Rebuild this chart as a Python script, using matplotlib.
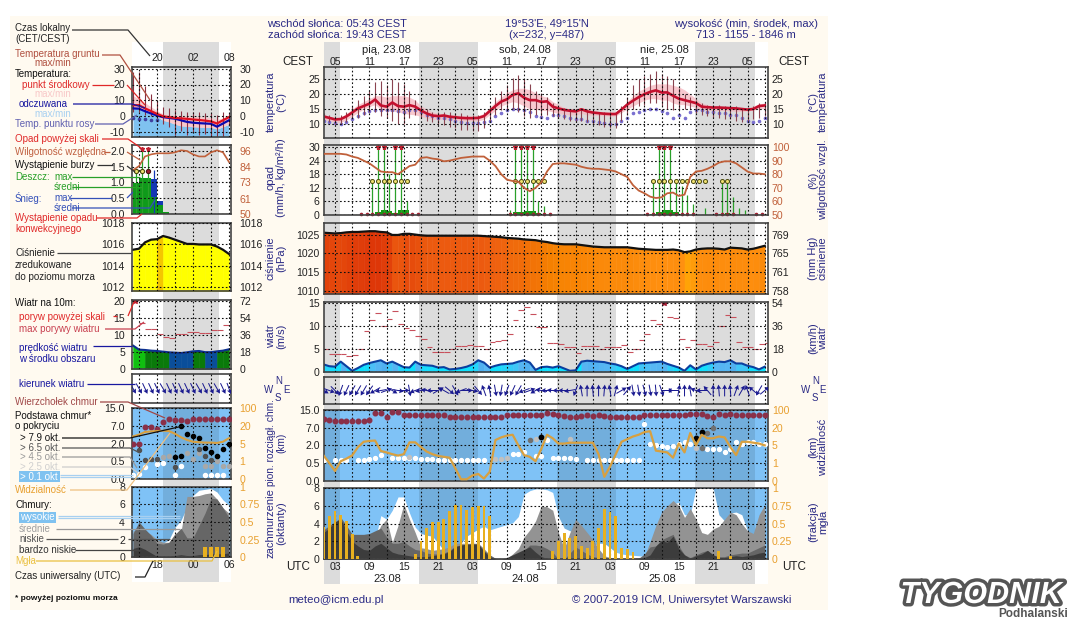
import numpy as np
import matplotlib
matplotlib.use("Agg")
import matplotlib.pyplot as plt
import matplotlib.patheffects as pe
from matplotlib.colors import LinearSegmentedColormap, Normalize
from matplotlib.patches import Rectangle, Polygon

plt.rcParams['font.family'] = ['Liberation Sans', 'DejaVu Sans']
W, H = 1079, 626
nan = float('nan')

# ---------- main period, hourly from 23.08 01 UTC ----------
hours = np.arange(1, 79)
temp_mean = [12.5,12,11.5,11.6,12.5,13.8,15.2,16,16.8,18.2,
 16.2,15.8,17.2,16,15.8,16.3,15.8,14.5,13.5,12.8,
 12.6,12.8,12.4,12.2,12,11.9,11.9,12,12.6,14.3,
 16,17.5,18.3,19.8,20.3,18.8,18,18,17.4,17.6,
 15.8,15.2,14.7,14.4,14.2,14.9,14.2,13.8,13.6,13.4,
 13.3,13.3,14.8,16.5,17.8,19,20,20.8,21.3,20.6,
 20.6,19.5,18.5,18,17.5,17,15.8,15.6,15.5,15.5,
 15.4,15.3,15.2,15,14.8,15,16,16.2]
temp_hi = [13.5,13,12.5,13,14,16,18,19.5,21,24,
 24.5,23,25,24,23.5,21,18,16,15,14,
 14,14,14,13.5,13.5,13,13,13,14,16,
 19,21,23,25.5,26.5,25,23.5,21,20.5,19,
 17,16,15.5,15,15,15.5,15,14.5,14,14,
 14,14,16,19,23,25,26,27,28,27,
 26,25,22,20,19,18,17,16.5,16.5,16.5,
 16,16,16,15.5,15.5,16,17,17.5]
temp_lo = [11,10.5,10,10,10.5,11.5,12,13,14,14,
 12.5,12,11,10,10,12,13,12,11,10.5,
 10,9.5,9,8.5,8,8,7.5,7.5,8.5,11,
 13,14.5,15,15,14,12.5,12,13,12.5,13,
 12.5,12,11.5,11,10.5,11,10.5,10,9.5,9,
 8.5,8.5,11,13,15,16,16.5,17,17,16,
 15,14.5,15,15,15,13.5,13,12.5,12,12,
 11.5,11.5,11,10.5,11,11.5,12,12.5]
band_hi = [13,12.5,12,12.3,13.5,15,16.5,17.5,18.5,19.5,
 19.5,19,19.5,19.5,19.5,19,18,16,15,14,
 13.5,13.5,13,13,12.8,12.7,12.7,12.8,13.5,15.5,
 17.5,19,20.5,21.5,22,22,21.5,20.5,19.5,19,
 17.5,16.5,15.5,15,15,15.5,15,14.5,14.2,14,
 14,14,15.5,17.5,19.5,21,22,23,23.5,23.5,
 23.5,23,22.5,21.5,20,18.5,17,16.5,16,16,
 15.8,15.7,15.5,15.3,15.3,16,16.8,17]
band_lo = [11.5,11,10.5,10.5,11.3,12.5,13.8,15,15.8,16.5,
 14.8,14.3,14.3,14,13.5,13.2,13,12.5,12,11.5,
 11.5,11.5,11.2,11.2,11,11,11,11,11.5,13,
 14.5,16,16.8,17.5,17,16,15,15,14.5,14.5,
 14,13.5,13.2,13,13,13.5,13,13,12.8,12.7,
 12.6,12.6,13.8,15,16,17,18,18.5,18.5,18,
 18,17,16.5,16.5,16,15.5,14.8,14.6,14.5,14.5,
 14.5,14.4,14.2,14.2,14.3,14.6,15,15.2]
dew = [11,10.5,10.2,10,10.5,11.5,12.5,13.5,14.2,14.6,
 14.8,14.8,14.6,14.3,14,14.5,14.8,14,13,12.5,
 12,11.8,11.5,11,10.5,10.3,10.2,10.2,10.5,11,
 12.5,13.5,14.5,15,15,14.8,14,12.5,12.2,12,
 13,13,12.5,12,11.5,11.5,11,10.8,10.5,10.2,
 10,10,11,12,13.5,14,14.5,15,15,14.3,
 13.5,12,13,12,14,14.5,14.5,14,14,13.5,
 13.5,13,13,12,11,10.5,11,12]
humidity = [95,95,95,95,94.5,93,92,90,88,85,
 82,81.5,81.5,80,83,86,87,92,92.5,91.5,
 91,89.5,90,91,92,92.5,93,93,93,90,
 86,80,76,75,74.5,70,67.5,70,74,82,
 87.5,88,88,87.5,87,85.5,84.5,84,84,83.5,
 83,82,80,78,72,68,66,63.5,62.5,63,
 66,66.5,64,65,78,82,82.5,84,86,88.5,
 89.5,89.5,88,85,82,80.5,80.5,80]
rain_hours = [9,10,11,12,13,14,15,33,34,35,36,37,38,39,58,59,60,61,62,63,64,65,67,70,71,72,73,74]
rain_max = [15.5,35,35,18,35,35,6,2,35,35,35,35,6,4,14.5,35,35,35,16,13,9,5,3,15,15,8,3,2]
mean_hours = [9,10,11,12,13,14,15,33,34,35,36,37,38,58,59,60,61,62,63,64,70,71,72,73]
rain_mean = [.5,1.5,2,1.8,1,2,2.4,.3,1.2,1.5,1.8,1.8,.8,.3,1.3,2,2.2,1.5,.5,.2,.5,.8,.5,.2]
convective_hours = [7,8,9,10,11,12,13,14,15,16,17,33,34,35,36,37,38,39,40,57,58,59,60,61,62,63,64,65,69,70,71,72,76,77]
thunder_hours = [9,10,11,12,13,14,15,34,35,36,37,38,39,58,59,60,61,62,63,64,65,66,67,70,71]
pressure = [1025.5,1025.4,1025.3,1025.4,1025.6,1025.7,1025.7,1025.8,1025.9,1025.9,
 1025.7,1025.6,1024.9,1024.9,1025.2,1025.2,1025,1024.8,1024.7,1024.7,
 1024.7,1024.7,1024.7,1024.7,1024.7,1024.7,1024.7,1024.7,1024.6,1024.5,
 1024.4,1024.3,1024.1,1024,1023.9,1023.7,1023.6,1023.5,1023.2,1023,
 1022.7,1022.5,1022.4,1022.4,1022.4,1022.2,1022,1021.8,1021.7,1021.6,
 1021.6,1021.6,1021.6,1021.6,1021.4,1021.2,1021.1,1021,1020.9,1020.9,
 1020.9,1021,1020.8,1020.3,1020.5,1021,1021.2,1021.3,1021.3,1021.2,
 1021,1021.5,1021.4,1021.3,1021,1021.2,1021.6,1022]
wind = [1.6,1.2,1.1,2.2,1.2,.2,.8,1.5,1.9,2.2,
 2.5,1.8,2.2,1.6,1,.9,2.2,1.5,1.4,1.3,
 .9,1,.5,.6,.8,1.1,1.6,2.5,2,.9,
 1.3,1.6,1.7,1.8,2.2,2.5,2,.4,1,1.1,
 .9,1.2,.7,.2,.3,2.2,2.4,2.3,2.2,2.1,
 1.8,1.6,1.2,.6,1.2,1.8,1.9,2,2.1,2.2,
 1.7,1.3,.9,.2,1.4,.5,1.3,1.7,2,2.2,
 2.1,2.5,1.8,1.8,1.3,1,.5,1.1]
gust = [5,3.9,3.9,3.9,3.5,3.6,5,9,11.4,12.9,
 9.9,11.6,13.2,10.5,9.6,9.1,7.8,7.2,5.4,4.2,
 4.2,4.2,5,5.6,5.7,5.8,5.7,5.7,5,6.4,
 6.7,7,8.2,11.2,13.4,14.1,12.7,9.8,9.7,6.3,
 6.3,6,5.5,5.4,4.1,5.7,5.7,5.7,5,5.3,
 5.4,5.4,5.9,4.3,5,6.9,8.3,11.4,10.5,15.6,
 12,11.7,7.1,5.4,6.9,6.1,6,5.7,6.4,9.9,
 12.3,12,6.6,5.4,5.4,5,6,6.3]
wind_bearing = [120,110,135,200,205,210,210,210,215,240,
 260,70,120,100,90,170,250,260,280,270,
 60,300,130,150,250,90,100,140,340,350,
 170,190,200,205,210,250,70,240,280,270,
 275,270,270,260,200,350,0,355,0,5,
 350,15,60,40,170,170,165,170,175,160,
 90,270,10,0,350,290,270,320,0,355,
 0,355,20,30,340,310,210,50]
cloud_top = [3.49,3.42,3.37,3.35,3.35,3.35,3.37,3.4,3.45,3.83,
 3.83,3.6,3.87,3.87,3.72,3.72,3.72,3.72,3.72,3.72,
 3.72,3.72,3.62,3.62,3.62,3.62,3.62,3.62,3.62,3.62,
 3.62,3.62,3.72,3.72,3.72,3.72,3.72,3.72,3.72,3.85,
 3.75,3.72,3.66,3.6,3.6,3.66,3.72,3.66,3.7,3.66,
 3.62,3.62,3.62,3.6,3.6,3.6,3.7,3.7,3.7,3.7,
 3.7,3.7,3.7,3.7,3.75,3.78,3.75,3.66,3.62,3.75,
 3.7,3.75,3.7,3.7,3.7,3.7,3.7,3.7]
base_white = [1.15,nan,1.15,1.15,1.15,nan,1.15,1.15,1.2,1.3,
 1.45,nan,1.27,1.27,1.27,1.3,1.27,1.25,1.2,1.2,
 1.15,1.15,1.15,1.15,1.15,1.15,1.15,1.15,1.15,nan,
 nan,nan,nan,1.5,1.5,1.6,nan,1.4,1.4,2.3,
 1.3,1.3,1.3,1.3,1.25,nan,1.15,1.15,1.15,1.15,
 1.15,1.15,1.15,1.15,1.15,1.15,3.2,2.05,2,1.95,
 1.9,1.95,2.05,2.2,2.05,nan,nan,1.8,1.8,1.8,
 1.65,1.8,2.2,2.05,2.2,2.2,2.05,2.05]
light_hours = [16,31,32,33,38,44,66]
light_levels = [1.35,1.25,1.25,1.3,2.35,2.35,1.85]
mid_hours = [37,67,68,69]
mid_levels = [2.3,1.85,2.7,3.0]
black_hours = [39,66,67]
black_levels = [2.45,2.4,2.75]
visibility = [1.43,1,.55,1.1,1.25,1.43,1.9,2.2,2.25,2.27,
 1.68,1.6,1.5,1.42,1.5,2.17,2.17,1.9,1.65,1.5,
 1.4,1.35,1.3,.7,.08,.08,.3,.38,.12,.5,
 2.3,2.45,2.55,2.6,2,1.45,1.35,1.1,1.8,2.6,
 2.4,2.1,2.1,2.15,2.15,2.15,2.15,2.15,1.5,.22,
 .8,1.5,2.2,2.35,2.5,2.6,2.75,2.8,1.7,1.65,
 1.6,1.3,2.1,1.6,2.7,2,2.6,2.4,2.4,2.5,
 2.45,1.9,1.45,2.2,2.2,2.15,2.1,2]
cloud_high = [3,2.8,2.6,2.5,2.4,2.2,2,1.6,1.45,2.2,
 4.9,4.5,5.5,7,7,5.2,3.6,2.9,2.7,2.6,
 1.8,1,1.1,1.25,1.8,2.6,3,3.4,3.7,3.3,
 3.5,3.7,3.9,4.1,4.8,7.3,7.7,7.9,7.9,7.8,
 7.5,4.8,3.5,3.2,3,2.3,1.5,1.5,1.8,1.8,
 1.3,.8,.6,.5,.45,.4,.3,.8,3,4.5,
 6,6.2,6.4,5,5,8,8,8,8,5,
 4.3,5.2,5.3,5,3.2,2.2,.8,.9]
cloud_mid = [2.5,2.5,2.5,2.5,2.45,2.4,2.3,2.1,2,2.4,
 3.8,4.5,1.9,3.8,6.2,4.5,3,1.3,1.2,1,
 1.1,1.2,1.4,1.8,1.8,1.8,1.8,1.8,1.2,.5,
 .1,.1,.1,.6,1.2,2.5,3.3,4.3,6,5.9,
 5.5,3,1.2,3,4.5,3.8,3,2.2,1.2,.4,
 .2,.1,.05,.1,.1,.2,.3,2,3.8,5.3,
 6,6.6,6,4.7,5.7,4.5,3,2.8,3.4,3.7,
 4.5,5.3,5,4,3.2,2.9,5,6.1]
cloud_low = [3.3,3.8,4.2,4.7,3.8,2.8,2.8,2.8,2.9,3.2,
 3.5,2.5,1.8,1.8,2,1.5,1.1,1,.7,.6,
 .6,.7,1,1.5,1.6,1.7,1.75,1.75,1,.5,
 .1,0,0,.3,.5,1,1.6,1.6,1.5,1.2,
 .8,0,0,.7,1.4,1,.6,.3,.2,.2,
 0,0,0,0,0,.1,.6,1.4,1.5,2.2,
 2.5,2.8,1.5,.5,.2,.5,.8,1,.5,.3,
 .3,.5,.6,.7,.7,1,1.3,1.6]
cloud_vlow = [3,3.5,4.2,4.5,3.2,2,1.5,1.1,1,1.5,
 1.8,1.3,.8,.6,.5,.4,.3,.3,.3,.4,
 .5,.6,.9,1.4,1.6,1.7,1.7,1.7,.9,.3,
 0,0,.2,.5,.8,1.1,1.4,.8,.3,.1,
 0,0,0,0,0,0,0,0,0,0,
 0,0,0,0,0,0,.2,.5,1.5,2.1,
 1.9,2.6,1.2,.5,.1,.4,.6,1,.5,.2,
 .2,.3,.4,.3,.4,.5,.7,.8]
fog_hours = [1,2,3,4,5,6,7,17,18,19,20,21,22,23,24,25,26,27,28,29,30,
 41,42,43,44,45,46,47,48,49,50,51,52,53,54,55,70,72]
fog = [.45,.61,.68,.62,.54,.35,.04,.08,.25,.44,.52,.53,.56,.68,.76,.76,.69,.73,.75,.75,.61,
 .11,.25,.37,.3,.32,.18,.16,.25,.44,.71,.66,.61,.16,.14,.1,.11,.04]
night_main = [(1,3.9),(17.7,27.9),(41.7,52),(65.9,76.3)]
utc_ticks = np.arange(3, 79, 6)
utc_labels = ['03','09','15','21','03','09','15','21','03','09','15','21','03']
cest_labels = ['05','11','17','23','05','11','17','23','05','11','17','23','05']

# ---------- left (analysis) period, hourly from 14 to 06 UTC ----------
l_hours = np.arange(14, 31)
l_temp = [7,7,5,3.3,1.5,0,-.5,-1,-1.3,-1.6,-2,-2.3,-2.7,-3.2,-4.5,-2.5,-.5]
l_feel = [5,4.8,3.2,1.8,.5,-.5,-1,-1.5,-2.5,-3.5,-4,-4.3,-4.5,-4.7,-6.5,-4.5,-2.5]
l_band_hi = [13,11,8.5,6,3.5,1.5,1,.5,.5,.2,0,-.3,-.5,-1,-2,-1,.5]
l_fill_hi = [5.5,4.5,3,1.5,0,-2.5,-3.5,-5,-6,-6.3,-6.5,-6.8,-7,-7,-8,-6.5,-5]
l_whisk_hi = [28,28,19,14,10,6,5,4,3.5,3,3,2.5,2,2,1,3,2]
l_whisk_lo = [3,3,1,0,-2,-5,-7,-12,-9,-12,-10,-12,-11,-13,-13,-13,-6]
l_dew_hours = [14,15,16,17,18]
l_dew = [-1,-1.5,-1.5,-2,-2]
l_humidity = [82,85,92,93.5,94.3,94.3,94.3,95,96.5,96,93.5,92,92,95,96.5,95,88]
l_rain_hours = [14,15,16,17,18,19]
l_rain = [.97,1.15,1.15,.55,.3,.05]
l_snow_hours = [17,18]
l_snow = [.55,.1]
l_max_hours = [14,15,16]
l_rain_max = [1.3,3,3]
l_snow_max = 1.4
l_thunder_hours = [14,15]
l_thunder_dark = [16]
l_pressure = [1015.5,1015.6,1016.2,1016.45,1016.5,1016.8,1016.65,1016.45,1016.25,1016.05,1016.05,1016,1016,1016,1015.8,1015.5,1015.1]
l_wind = [6.9,5.7,5.6,5.4,5.3,5.1,4.9,4.8,4.7,4.9,5.2,5.3,4.95,4.95,5.2,5.4,5.8]
l_gust = [22,13.4,11.7,11.7,10.3,9.3,9,10.3,10.3,10.8,10.8,10.5,10.5,11.4,11.4,13,13]
l_bearing = [150,150,155,155,155,150,155,155,155,155,155,150,155,155,150,155,160]
l_top_hours = [14,15,16,17,18,19,20,21,22,23,24,25,26,27,28,29,30]
l_top = [2,2,2.95,2.93,2.8,3.2,3.4,3.35,3.35,3.27,3.37,3.37,3.37,3.37,3.37,3.37,3.37]
l_black_hours = [22,23,24,25,26,27,28,29,30,21,22]
l_black = [3,2.55,2.4,2.3,1.75,1.5,1.3,1.7,2,1.25,1.3]
l_dark_hours = [15,16,17,18,21,25,26,27]
l_dark = [1.63,1.05,1.1,1.1,.7,1.7,1.3,1.05]
l_gray_hours = [19,20,23,24,25,26,27,28,29,30]
l_gray = [1.25,1.3,1.45,1.15,1.45,.75,.75,1,.75,.75]
l_white_hours = [14,15,16,18,19,21,22,26,27,28,29]
l_white = [.25,.3,.7,.85,.9,.25,.75,.25,.25,.25,.25]
l_vis = [2.4,2.5,2.65,2.68,2.7,2.72,2.7,2.55,2.35,2.2,2.1,2.07,2.05,2.05,2.03,2.1,2.3]
l_high = [1,1,1,1.2,1.3,1.6,2,3.4,4.2,5.7,7,7.6,7.7,7.8,7.4,6.5,5.9]
l_mid = [3,3,3,2.6,2,1.7,1.7,2.7,2.9,6.9,6.9,7,7.2,7.3,6.6,5.6,5]
l_low = [2.7,4,3.2,2.5,1.6,1.5,1.7,2.6,3.3,2.2,2.2,3.6,5,6.7,6.6,5.6,4.5]
l_vlow = [1,1.2,.9,.5,.1,.1,.1,.2,.3,.2,.2,.3,.3,.4,.4,.4,.5]
l_fog_hours = [26,27,28,29]
l_fog = [.14,.14,.14,.14]
l_night = (19, 28.3)

# ---------- tick labels ----------
t_main = [10,15,20,25]
t_left = [-10,0,10,20,30]
rain_ticks = [0,6,12,18,24,30]
hum_ticks = [50,60,70,80,90,100]
p_ticks = [1010,1015,1020,1025]
hg_labels = ['758','761','765','769']
w_ticks = [0,5,10,15]
kmh_labels = ['0','18','36','54']
lvl_ticks = [0,1,2,3,4]
km_labels = ['0.0','0.5','2.0','7.0','15.0']
vis_labels = ['0','1','5','20','100']
okt_ticks = [0,2,4,6,8]
fog_ticks = [0,.25,.5,.75,1]
fog_labels = ['0','0.25','0.5','0.75','1']

# ---------- style ----------
NAVY = '#2a2a85'; ORANGE = '#E8A030'; SKY = '#7fc2f6'; FS = 7.6; LFS = 7.0
BROWN = '#C0603A'
p_cmap = LinearSegmentedColormap.from_list('p', [(0,'#FFFF00'),(.0108,'#F0B000'),(.355,'#FFB000'),(.44,'#FF9010'),
                                                 (.677,'#F58000'),(.84,'#EE6010'),(1,'#DD3508')])
p_norm = Normalize(1016.7, 1026)
w_cmap = LinearSegmentedColormap.from_list('w', [(0,'#00E8FF'),(.6,'#18DCFC'),(.8,'#58B8F4'),(1,'#50B0F0')])

fig = plt.figure(figsize=(W/100, H/100), dpi=100, facecolor='white')

def panel(x0, x1, top, bot, z=2):
    ax = fig.add_axes([x0/W, 1-bot/H, (x1-x0)/W, (bot-top)/H], zorder=z)
    ax.patch.set_alpha(0)
    return ax

bg = panel(0, W, 0, H, z=0)
bg.set_xlim(0, W); bg.set_ylim(H, 0); bg.axis('off')
bg.add_patch(Rectangle((10,16), 818, 594, fc='#FFFAF0', ec='none'))
bg.add_patch(Rectangle((132,42), 99, 540, fc='white', ec='none'))
bg.add_patch(Rectangle((324,42), 444, 542, fc='white', ec='none'))

XM = (1.08, 78.5); XL = (13.83, 30.27)
band_m = panel(324, 767.6, 42, 584, z=1); band_m.set_xlim(XM); band_m.axis('off')
for a, b in night_main:
    band_m.axvspan(a, b, color='#DCDCDC', lw=0)
band_l = panel(132, 230.6, 42, 582, z=1); band_l.set_xlim(XL); band_l.axis('off')
band_l.axvspan(*l_night, color='#DCDCDC', lw=0)

def style(ax, xl, yl, yticks, ylabels=None, ycol='#222', main=True):
    ax.set_xlim(xl); ax.set_ylim(yl)
    if main:
        ax.set_xticks(utc_ticks); ax.set_xticks(np.arange(6, 79, 6), minor=True)
    else:
        ax.set_xticks([18, 24, 30]); ax.set_xticks([15, 21, 27], minor=True)
    ax.set_xticklabels([])
    ax.set_yticks(yticks)
    ax.set_yticklabels(ylabels if ylabels is not None else [str(t) for t in yticks])
    ax.tick_params(axis='both', which='both', length=0, labelsize=FS, pad=3)
    ax.tick_params(axis='y', labelcolor=ycol, pad=3 if main else 5)
    ax.grid(True, which='both', color='#111', ls=(0, (1.5, 2)), lw=0.8)
    ax.set_axisbelow(False)
    for s in ax.spines.values():
        s.set_color('#444'); s.set_linewidth(1.2)

def right(ax, yl, ticks, labels, col='#222', pad=3):
    a2 = ax.twinx(); a2.set_ylim(yl); a2.set_yticks(ticks); a2.set_yticklabels(labels)
    a2.tick_params(length=0, labelsize=FS, pad=pad, labelcolor=col)
    a2.patch.set_alpha(0)
    for s in a2.spines.values():
        s.set_visible(False)
    return a2

def level_fill(ax, x, vals, color):
    ax.fill_between(x, 0, vals, color=color, lw=0)

def strip(ax, x0x1, base, vals, color):
    ax.fill_between(x0x1, base, vals, facecolor=color, edgecolor=color, lw=.4)

# ========== MAIN PANELS ==========
ax = panel(324, 767.6, 67, 138)
style(ax, XM, (5.2, 29.2), t_main)
ax.fill_between(hours, band_lo, band_hi, color='#F6B8C0', alpha=.75, lw=0)
ax.plot(hours, dew, ls='none', marker='o', ms=1.6, color='#7A70D0')
ax.vlines(hours, temp_lo, temp_hi, color='#8A4450', lw=.8)
ax.plot(hours, temp_mean, color='#C4102E', lw=1.9)
ax.set_xticks(utc_ticks); ax.set_xticklabels(cest_labels)
ax.tick_params(axis='x', which='major', top=False, labeltop=True, labelbottom=False, pad=0, labelcolor='#222')
right(ax, (5.2, 29.2), t_main, [str(t) for t in t_main])

ax = panel(324, 767.6, 145, 215)
yl = (0, 30.9)
style(ax, XM, yl, rain_ticks)
rx = np.array(rain_hours)+.5
ax.vlines(rx, 0, np.minimum(rain_max, 30), color='#2aa02a', lw=.9)
ax.bar(np.array(mean_hours)+.5, rain_mean, width=1, color='#159A15', lw=0)
over = np.array(rain_max) > 30
ax.plot(rx[over], np.full(over.sum(), 30), ls='none', marker='*', ms=3.6, color='#C02030')
ax.plot(np.array(convective_hours)+.5, np.zeros(len(convective_hours))+.3, ls='none', marker='o', ms=1.6,
        color='#A02030', clip_on=False)
ax.plot(np.array(thunder_hours)+.5, np.full(len(thunder_hours), 15), ls='none', marker='o', ms=2.9,
        mfc='#EEE070', mec='#4A4A10', mew=.7)
a2 = right(ax, (50, 50+30.9/30*50), hum_ticks, [str(t) for t in hum_ticks], BROWN)
a2.plot(hours, humidity, color=BROWN, lw=1.3)

ax = panel(324, 767.6, 223, 293.6)
yl = (1009.2, 1028.1)
style(ax, XM, yl, p_ticks)
for i in range(len(hours)-1):
    strip(ax, hours[i:i+2], yl[0], pressure[i:i+2], p_cmap(p_norm(pressure[i])))
ax.plot(hours, pressure, color='#111', lw=1.6)
right(ax, yl, p_ticks, hg_labels)

ax = panel(324, 767.6, 301.7, 371.7)
yl = (0, 15.3)
style(ax, XM, yl, w_ticks)
for i in range(len(hours)-1):
    strip(ax, hours[i:i+2], 0, wind[i:i+2], w_cmap(min(wind[i]/2.5, 1)))
ax.plot(hours, wind, color='#0B3F9F', lw=1.5)
g = np.array(gust); h0 = hours
ax.hlines(g[g <= 15], h0[g <= 15], h0[g <= 15]+1, color='#C8505C', lw=.8)
ax.plot(h0[g > 15]+.5, np.full((g > 15).sum(), 15), ls='none', marker='*', ms=4, color='#A01830')
right(ax, yl, w_ticks, kmh_labels)

def arrows(ax, x, bearing):
    b = np.radians(bearing)
    ax.quiver(x, np.zeros(len(x)), np.sin(b), np.cos(b), angles='uv', scale_units='inches', scale=8.5,
              pivot='mid', units='inches', width=.010, headwidth=5, headlength=4.5, headaxislength=4,
              color='#1A1A90', zorder=5)

ax = panel(324, 767.6, 377, 404)
style(ax, XM, (-1, 1), [], [])
arrows(ax, hours, wind_bearing)

def cloud_panel(ax, night):
    ax.set_facecolor(SKY); ax.patch.set_alpha(1)
    for a, b in night:
        ax.axvspan(a, b, color='black', alpha=.1, lw=0, zorder=.5)

ax = panel(324, 767.6, 410, 480.7)
yl = (0, 4)
cloud_panel(ax, night_main)
style(ax, XM, yl, lvl_ticks, km_labels)
ax.plot(hours, cloud_top, ls='none', marker='o', ms=3.3, color='#8A3048', zorder=4)
ax.plot(hours, base_white, ls='none', marker='o', ms=2.8, color='white', zorder=4)
ax.plot(light_hours, light_levels, ls='none', marker='o', ms=2.9, color='#C0C0C0', zorder=4)
ax.plot(mid_hours, mid_levels, ls='none', marker='o', ms=3, color='#707070', zorder=4)
ax.plot(black_hours, black_levels, ls='none', marker='o', ms=3.2, color='#000000', zorder=4)
ax.plot(hours, visibility, color='#D8A040', lw=1.6, zorder=5)
right(ax, yl, lvl_ticks, vis_labels, ORANGE)

ax = panel(324, 767.6, 488, 559.3)
yl = (0, 8)
cloud_panel(ax, night_main)
level_fill(ax, hours, cloud_high, 'white')
level_fill(ax, hours, cloud_mid, '#939393')
level_fill(ax, hours, cloud_low, '#666666')
level_fill(ax, hours, cloud_vlow, '#3C3C3C')
style(ax, XM, yl, okt_ticks)
ax.set_xticklabels(utc_labels)
ax.tick_params(axis='x', which='major', labelbottom=True, pad=2, labelcolor='#222')
a2 = right(ax, (0, 1), fog_ticks, fog_labels, ORANGE)
a2.bar(fog_hours, fog, width=.5, color='#E8B020', lw=0)

# ========== LEFT PANELS ==========
RP = 6.5
ax = panel(132, 230.6, 67, 137)
style(ax, XL, (-13, 31), t_left, main=False)
ax.fill_between(l_hours, -13, l_fill_hi, color='#7FC2F0', lw=0)
ax.fill_between(l_hours, l_fill_hi, l_band_hi, color='#F8C8CC', lw=0)
ax.vlines(l_hours, l_whisk_lo, l_whisk_hi, color='#8A3040', lw=.8)
ax.plot(l_dew_hours, l_dew, ls='none', marker='o', ms=1.6, color='#4040A0')
ax.plot(l_hours, l_feel, color='#0A0AB0', lw=1.6)
ax.plot(l_hours, l_temp, color='#E01020', lw=1.6)
ax.set_xticks([18, 24, 30]); ax.set_xticklabels(['20', '02', '08'])
ax.tick_params(axis='x', which='major', labeltop=True, labelbottom=False, pad=3, labelcolor='#222')
right(ax, (-13, 31), t_left, [str(t) for t in t_left], pad=RP)

ax = panel(132, 230.6, 145, 214)
yl = (0, 2.19)
style(ax, XL, yl, [0, .5, 1, 1.5, 2], ['0.0', '0.5', '1.0', '1.5', '2.0'], main=False)
ax.bar(np.array(l_rain_hours)+.5, l_rain, width=1, color='#0F9A1A', lw=0)
ax.bar(np.array(l_snow_hours)+.5, l_snow, width=1, bottom=[l_rain[3], l_rain[4]], color='#1438B4', lw=0)
lm = np.array(l_max_hours)+.5
ax.vlines(lm, 0, np.minimum(l_rain_max, 2.05), color='#2AA02A', lw=.9)
ax.plot(lm[np.array(l_rain_max) > 2], [2.05, 2.05], ls='none', marker='*', ms=3.6, color='#C02030')
ax.vlines(17.5, 0, l_snow_max, color='#1438B4', lw=.9)
ax.plot(np.array(l_thunder_hours)+.5, [1.35, 1.35], ls='none', marker='o', ms=3, mfc='#EEE070', mec='#4A4A10', mew=.8)
ax.plot(np.array(l_thunder_dark)+.5, [1.35], ls='none', marker='o', ms=3, mfc='#A02030', mec='#4A1010', mew=.8)
a2 = right(ax, (50, 50+2.19*23), [50, 61, 73, 84, 96], ['50', '61', '73', '84', '96'], BROWN, pad=RP)
a2.plot(l_hours, l_humidity, color=BROWN, lw=1.2)

ax = panel(132, 230.6, 223.3, 291)
yl = (1011.6, 1018)
style(ax, XL, yl, [1012, 1014, 1016, 1018], main=False)
for i in range(len(l_hours)-1):
    strip(ax, l_hours[i:i+2], yl[0], l_pressure[i:i+2], p_cmap(p_norm(l_pressure[i+1])))
ax.plot(l_hours, l_pressure, color='#111', lw=1.6)
right(ax, yl, [1012, 1014, 1016, 1018], ['1012', '1014', '1016', '1018'], pad=RP)

ax = panel(132, 230.6, 300, 369)
yl = (0, 20.3)
style(ax, XL, yl, [0, 5, 10, 15, 20], main=False)
for i in range(len(l_hours)-1):
    v = l_wind[i]
    c = '#0A4E9A' if v < 5 else ('#0A7A0A' if v < 5.65 else '#10C010')
    strip(ax, l_hours[i:i+2], 0, l_wind[i:i+2], c)
ax.plot(l_hours, l_wind, color='#0B2F8F', lw=1.5)
lg = np.array(l_gust); lh = l_hours
ax.hlines(lg[lg <= 20], lh[lg <= 20], lh[lg <= 20]+1, color='#C8505C', lw=.8)
ax.plot(lh[lg > 20]+.4, [20], ls='none', marker='*', ms=4, color='#C02030')
right(ax, yl, [0, 5, 10, 15, 20], ['0', '18', '36', '54', '72'], pad=RP)

ax = panel(132, 230.6, 374, 403)
style(ax, XL, (-1, 1), [], [], main=False)
arrows(ax, l_hours, l_bearing)

ax = panel(132, 230.6, 408, 479)
yl = (0, 4)
cloud_panel(ax, [l_night])
style(ax, XL, yl, lvl_ticks, km_labels, main=False)
ax.plot(l_top_hours, l_top, ls='none', marker='o', ms=3.3, color='#8A3048', zorder=4)
ax.plot(l_white_hours, l_white, ls='none', marker='o', ms=2.9, color='white', zorder=4)
ax.plot(l_gray_hours, l_gray, ls='none', marker='o', ms=2.9, color='#A8A8A8', zorder=4)
ax.plot(l_dark_hours, l_dark, ls='none', marker='o', ms=2.9, color='#505050', zorder=4)
ax.plot(l_black_hours, l_black, ls='none', marker='o', ms=3, color='#000000', zorder=4)
ax.plot(l_hours, l_vis, color='#D8A040', lw=1.5, zorder=5)
right(ax, yl, lvl_ticks, vis_labels, ORANGE, pad=RP)

ax = panel(132, 230.6, 486.7, 557.3)
yl = (0, 8)
cloud_panel(ax, [l_night])
level_fill(ax, l_hours, l_high, 'white')
level_fill(ax, l_hours, l_mid, '#939393')
level_fill(ax, l_hours, l_low, '#666666')
level_fill(ax, l_hours, l_vlow, '#3C3C3C')
style(ax, XL, yl, okt_ticks, main=False)
ax.set_xticks([18, 24, 30]); ax.set_xticklabels(['18', '00', '06'])
ax.tick_params(axis='x', which='major', labelbottom=True, pad=2, labelcolor='#222')
a2 = right(ax, (0, 1), fog_ticks, fog_labels, ORANGE, pad=RP)
a2.bar(l_fog_hours, l_fog, width=.55, color='#E8B020', lw=0)

# ========== OVERLAY: TEXT AND CONNECTORS ==========
ov = panel(0, W, 0, H, z=10)
ov.set_xlim(0, W); ov.set_ylim(H, 0); ov.axis('off')

def T(x, y, s, c='#222', ha='left', fs=LFS, **k):
    ov.text(x, y, s, color=c, ha=ha, va='center', fontsize=fs, linespacing=1.05, **k)

def L(pts, c, lw=.9):
    xs, ys = zip(*pts)
    ov.plot(xs, ys, color=c, lw=lw, solid_capstyle='butt')

RED = '#E02828'; GRN = '#28A028'; BLU = '#3450B8'; PINK = '#F8C8C8'; LBLU = '#A8D0F0'
labels = [
 (15,28,'Czas lokalny','#222'),(15,39,'(CET/CEST)','#222'),
 (15,54,'Temperatura gruntu','#B05040'),(34,63,'max/min','#B05040'),
 (15,74,'Temperatura:','#111'),(22,85,'punkt środkowy',RED),(34,94,'max/min',PINK),
 (19,104,'odczuwana','#1818A0'),(34,114,'max/min',LBLU),(15,124,'Temp. punktu rosy','#6060B0'),
 (15,139,'Opad powyżej skali',RED),(15,152,'Wilgotność względna','#C06040'),
 (15,165,'Wystąpienie burzy','#111'),(15,177,'Deszcz:',GRN),(54,177,'max',GRN),(54,187,'średni',GRN),
 (15,198,'Śnieg:',BLU),(54,198,'max',BLU),(54,208,'średni',BLU),
 (15,218,'Wystąpienie opadu',RED),(15,229,'konwekcyjnego',RED),
 (15,253,'Ciśnienie','#222'),(15,265,'zredukowane','#222'),(15,277,'do poziomu morza','#222'),
 (15,303,'Wiatr na 10m:','#111'),(19,317,'poryw powyżej skali',RED),(19,329,'max porywy wiatru','#C84050'),
 (19,348,'prędkość wiatru','#1818A0'),(19,359,'w środku obszaru','#1818A0'),(19,384,'kierunek wiatru','#1818A0'),
 (15,402,'Wierzchołek chmur','#A04848'),(15,416,'Podstawa chmur*','#111'),(15,426,'o pokryciu','#111'),
 (20,438,'> 7.9 okt.','#111'),(20,448,'> 6.5 okt.','#555555'),(20,457.5,'> 4.5 okt.','#999999'),
 (20,467,'> 2.5 okt.','#D0D0D0'),
 (15,490,'Widzialność',ORANGE),(15,505,'Chmury:','#111'),
 (19,529,'średnie','#A0A0A0'),(19,539.5,'niskie','#555555'),(19,550,'bardzo niskie','#333333'),
 (15,561,'Mgła','#EAC040'),(15,576,'Czas uniwersalny (UTC)','#222'),
]
for x, y, s, c in labels:
    T(x, y, s, c)
ov.add_patch(Rectangle((19, 471), 41, 10.5, fc='#7FC2F0', ec='none'))
ov.add_patch(Rectangle((19, 512), 37, 10.5, fc='#7FC2F0', ec='none'))
T(20, 476.5, '> 0.1 okt', 'white'); T(20, 517.5, 'wysokie', 'white')
T(15, 599, '* powyżej poziomu morza', '#111', fs=6, fontweight='bold')

connectors = [
 ([(72,30),(128,30),(150,56)],'#333'),
 ([(102,55),(120,55),(150,100)],'#B05040'),
 ([(92,85),(114,85)],RED),([(127,85),(145,105)],RED),
 ([(73,104),(132,104),(145,108)],'#1818A0'),
 ([(95,124),(123,124),(137,115)],'#6060B0'),
 ([(102,139),(128,139),(141,148)],RED),
 ([(104,152),(110,152)],'#C06040'),([(127,152),(140,160)],'#C06040'),
 ([(97,165),(113,165)],'#333'),([(127,166),(135,172)],'#333'),
 ([(72,177),(140,177)],GRN),([(72,187),(142,187)],GRN),
 ([(70,198),(112,198)],BLU),([(127,198),(133,192)],BLU),
 ([(72,208),(150,208),(155,200)],BLU),
 ([(97,218),(137,218),(142,214)],RED),
 ([(57,253),(131,253)],'#444'),
 ([(128,316),(134,302)],RED),([(113,316),(117,316)],RED),
 ([(105,329),(135,329),(144,322)],'#C84050'),
 ([(93,346),(132,346)],'#1818A0'),
 ([(87,384),(135,384)],'#1818A0'),
 ([(100,402),(128,402),(165,418)],'#A04848'),
 ([(62,438),(130,438),(183,426)],'#111'),
 ([(62,448),(130,448),(140,453)],'#555'),
 ([(62,457),(130,457),(137,468)],'#999'),
 ([(62,467),(130,467),(138,473)],'#CCC'),
 ([(60,475),(133,475)],'#A8D0F0'),([(60,477),(133,477)],'#A8D0F0'),
 ([(70,490),(127,490),(170,433)],'#EEC080'),
 ([(58,516),(180,516)],'#A8D0F0'),([(58,518),(180,518)],'#A8D0F0'),
 ([(56,529),(180,529)],'#999'),
 ([(46,539),(118,539)],'#555'),([(128,539),(170,539)],'#555'),
 ([(75,550),(140,550)],'#444'),
 ([(36,561),(212,561),(217,551)],'#EAC040'),
 ([(135,577),(145,577),(153,561)],'#222'),
]
for pts, c in connectors:
    L(pts, c)

T(267, 24, 'wschód słońca: 05:43 CEST', NAVY, fs=8)
T(268, 35, 'zachód słońca: 19:43 CEST', NAVY, fs=8)
T(547, 24, "19°53'E, 49°15'N", NAVY, ha='center', fs=8)
T(547, 35, '(x=232, y=487)', NAVY, ha='center', fs=8)
T(746, 24, 'wysokość (min, środek, max)', NAVY, ha='center', fs=8)
T(746, 35, '713 - 1155 - 1846 m', NAVY, ha='center', fs=8)
T(387, 50, 'pią, 23.08', '#222', ha='center', fs=8)
T(525, 50, 'sob, 24.08', '#222', ha='center', fs=8)
T(664, 50, 'nie, 25.08', '#222', ha='center', fs=8)
T(298, 62, 'CEST', '#222', ha='center', fs=8.4)
T(794, 62, 'CEST', '#222', ha='center', fs=8.4)
T(298, 567, 'UTC', '#222', ha='center', fs=8.4)
T(794, 567, 'UTC', '#222', ha='center', fs=8.4)
T(387, 578.5, '23.08', '#222', ha='center', fs=8)
T(525, 578.5, '24.08', '#222', ha='center', fs=8)
T(662, 578.5, '25.08', '#222', ha='center', fs=8)
T(288, 600, 'meteo@icm.edu.pl', NAVY, fs=8.2)
T(572, 600, '© 2007-2019 ICM, Uniwersytet Warszawski', NAVY, fs=8.2)

side = [
 (276,102,'temperatura\n(°C)',8),(276,178,'opad\n(mm/h, kg/m²/h)',8),(276,258,'ciśnienie\n(hPa)',8),
 (276,336,'wiatr\n(m/s)',8),(276,443,'pion. rozciągł. chm.\n(km)',7.3),(276,523,'zachmurzenie\n(oktanty)',8),
 (818,102,'(°C)\ntemperatura',8),(818,180,'(%)\nwilgotność wzgl.',8),(818,258,'(mm Hg)\nciśnienie',8),
 (818,338,'(km/h)\nwiatr',8),(818,447,'(km)\nwidzialność',8),(818,522,'(frakcja)\nmgła',8),
]
for x, y, s, fs in side:
    ov.text(x, y, s, color=NAVY, ha='center', va='center', rotation=90, fontsize=fs, linespacing=1.0, multialignment='center')
for x0 in (271, 808):
    for dx, dy, s in [(-2,390,'W'),(8,381,'N'),(15,390,'E'),(7,398,'S')]:
        T(x0+dx, dy, s, NAVY, fs=7, ha='center')

# newspaper logo
ov.text(981, 595, 'TYGODNIK', color='white', fontsize=22, fontweight='bold', style='italic', ha='center', va='center',
        path_effects=[pe.withStroke(linewidth=5, foreground='#555555')])
ov.text(1033, 614, 'Podhalanski', color='#555555', fontsize=8.5, fontweight='bold', ha='center', va='center')

fig.savefig('out.png', dpi=100)
